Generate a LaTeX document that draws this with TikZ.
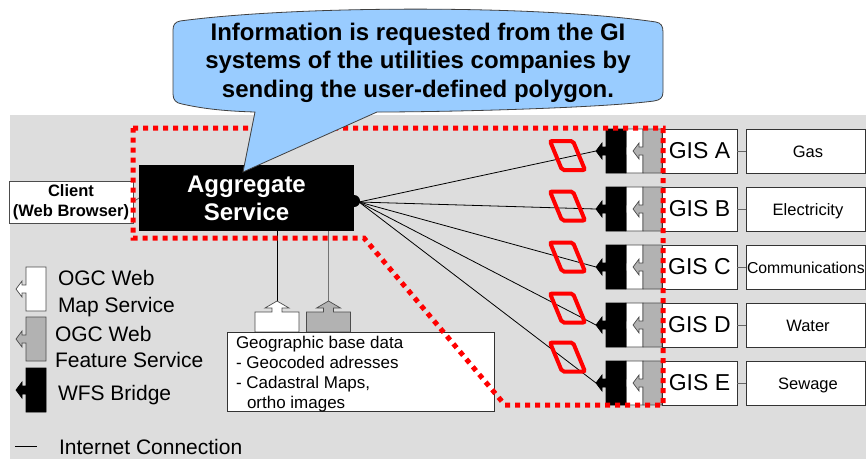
\documentclass[tikz,border=0pt]{standalone}
\usepackage{fontspec}
\setmainfont{Liberation Sans}
\definecolor{bggray}{HTML}{DDDDDD}
\definecolor{wfsgray}{HTML}{B2B2B2}
\definecolor{callblue}{HTML}{99CCFF}
% left-pointing service block: #1,#2 = left-centre of rectangle, #3 = width, #4 = style
\newcommand\svcblk[4]{\begin{scope}[shift={(#1,#2)}]\path[#4] (0,-22) -- (#3,-22) -- (#3,22) -- (0,22) -- (0,4) -- (-4,4) -- (-4,8) -- (-10,0) -- (-4,-8) -- (-4,-4) -- (0,-4) -- cycle;\end{scope}}
% up-pointing service block: #1,#2 = top-centre of rectangle, #3 = style
\newcommand\upblk[3]{\begin{scope}[shift={(#1,#2)}]\path[#3] (-22,0) -- (-5,0) -- (-5,-4) -- (-12,-4) -- (0,-11) -- (12,-4) -- (5,-4) -- (5,0) -- (22,0) -- (22,20) -- (-22,20) -- cycle;\end{scope}}
\begin{document}
\begin{tikzpicture}[x=1pt,y=-1pt,
  every node/.style={inner sep=0pt,outer sep=0pt},
  framebox/.style={draw=black!80,fill=white,line width=0.8pt},
  gisfont/.style={font=\fontsize{23}{27}\selectfont},
  catfont/.style={font=\fontsize{16.5}{20}\selectfont},
  legfont/.style={font=\fontsize{21}{25}\selectfont},
  gbdfont/.style={font=\fontsize{17}{20}\selectfont},
  callfont/.style={font=\bfseries\fontsize{24}{28}\selectfont},
  wire/.style={black,line width=0.8pt},
  graywire/.style={black!55,line width=1.2pt},
  redpoly/.style={draw=red,line width=4pt,rounded corners=2pt},
  reddot/.style={draw=red,line width=5pt,dash pattern=on 5pt off 5pt},
  wms/.style={fill=white,draw=black!70,line width=0.7pt},
  wfs/.style={fill=wfsgray,draw=black!70,line width=0.7pt},
  bridge/.style={fill=black,draw=black,line width=0.7pt},
]
\useasboundingbox (0,0) rectangle (866,459);
\fill[bggray] (10,115) rectangle (866,459);

% aggregate service and client
\node[fill=black,text=white,minimum width=215pt,minimum height=66pt,align=center,
      font=\bfseries\fontsize{24}{28}\selectfont] (agg) at (246.5,198) {Aggregate\\Service};
\coordinate (hub) at ([xshift=5pt,yshift=-4pt]agg.east);

% internet connections to the WFS bridges
\foreach \c/\l in {151/A,209/B,267/C,325/D,383/E}{
  \coordinate (tip\l) at (596,\c);
  \draw[wire] (hub) -- (tip\l);
}
\fill ([yshift=-3pt]agg.east) circle (6pt);

\node[draw=black!70,fill=white,line width=0.8pt,minimum width=124pt,minimum height=42pt,align=center,
      font=\bfseries\fontsize{16.5}{20}\selectfont] (client) at (71,202) {Client\\(Web Browser)};
\draw[black!60,line width=0.8pt] (client.east) -- (agg.west);

% geographic base data
\coordinate (wmsTip) at (277,301);
\coordinate (wfsTip) at (328.5,301);
\draw[wire] (wmsTip |- agg.south) -- (wmsTip);
\draw[graywire] (wfsTip |- agg.south) -- (wfsTip);
\upblk{277}{312}{wms}
\upblk{328.5}{312}{wfs}
\node[framebox,minimum width=267pt,minimum height=79pt] (gbd) at (360.5,371.5) {};
\node[gbdfont,anchor=base west] (gbd1) at (236,348) {Geographic base data};
\node[gbdfont,anchor=base west] (gbd2) at (236,368) {- Geocoded adresses};
\node[gbdfont,anchor=base west] (gbd3) at (236,388) {- Cadastral Maps,};
\node[gbdfont,anchor=base west] (gbd4) at (247,408) {ortho images};

% GIS rows
\foreach \c/\l/\cat/\tx/\an/\p/\fs in {151/A/Gas/808/base/155.5/16.5,
    209/B/Electricity/808/base/206/16.5,
    267/C/Communications/747/base west/257/15.8,
    325/D/Water/808/base/308/16.5,
    383/E/Sewage/808/base/357/16.5}{
  \svcblk{626}{\c}{17}{wms}
  \svcblk{643}{\c}{19}{wfs}
  \svcblk{606}{\c}{20}{bridge}
  \node[framebox,gisfont,minimum width=75pt,minimum height=44pt] (gis\l) at (699.5,\c) {GIS \l};
  \node[framebox,minimum width=119pt,minimum height=44pt] (cat\l) at (805.5,\c) {};
  \node[font=\fontsize{\fs}{20}\selectfont,anchor=\an] (lab\l) at (\tx,\c+6) {\cat};
  \draw[black!60,line width=0.8pt] (gis\l.east) -- (cat\l.west);
  \begin{scope}[shift={(567.5,\p)}]
    \draw[redpoly] (-17.5,-14.5) -- (5.5,-14.5) -- (17.5,14.5) -- (-5.5,14.5) -- cycle;
  \end{scope}
}

% legend
\svcblk{26}{289}{20}{wms}
\svcblk{26}{339}{20}{wfs}
\svcblk{26}{390}{20}{bridge}
\node[legfont,anchor=base west] (lg1) at (58,285) {OGC Web};
\node[legfont,anchor=base west] (lg2) at (58,312) {Map Service};
\node[legfont,anchor=base west] (lg3) at (55,341) {OGC Web};
\node[legfont,anchor=base west] (lg4) at (55,367) {Feature Service};
\node[legfont,anchor=base west] (lg5) at (58,400) {WFS Bridge};
\node[legfont,anchor=base west] (lg6) at (59,454) {Internet Connection};
\draw[wire] (15,446) -- (37,446);

% red dotted polygon
\draw[reddot] (133,128) -- (663,128) -- (663,405) -- (505,405) -- (364,238) -- (133,238) -- cycle;

% callout
\path[draw=black!75,fill=callblue,line width=0.8pt]
  (180,21) .. controls (300,5) and (540,5) .. (656,22)
  .. controls (661,23) and (663,26) .. (663,32)
  -- (663,92)
  .. controls (663,98) and (660,100) .. (654,101)
  .. controls (600,108) and (450,112) .. (377,112)
  -- (243,172) -- (255,112)
  .. controls (220,111) and (200,108) .. (182,104)
  .. controls (176,103) and (173,100) .. (173,94)
  -- (173,30)
  .. controls (173,25) and (175,22) .. (180,21) -- cycle;
\node[callfont,anchor=base] (call1) at (418,40) {Information is requested from the GI};
\node[callfont,anchor=base] (call2) at (418,68.5) {systems of the utilities companies by};
\node[callfont,anchor=base] (call3) at (418,97) {sending the user-defined polygon.};
\end{tikzpicture}
\end{document}
